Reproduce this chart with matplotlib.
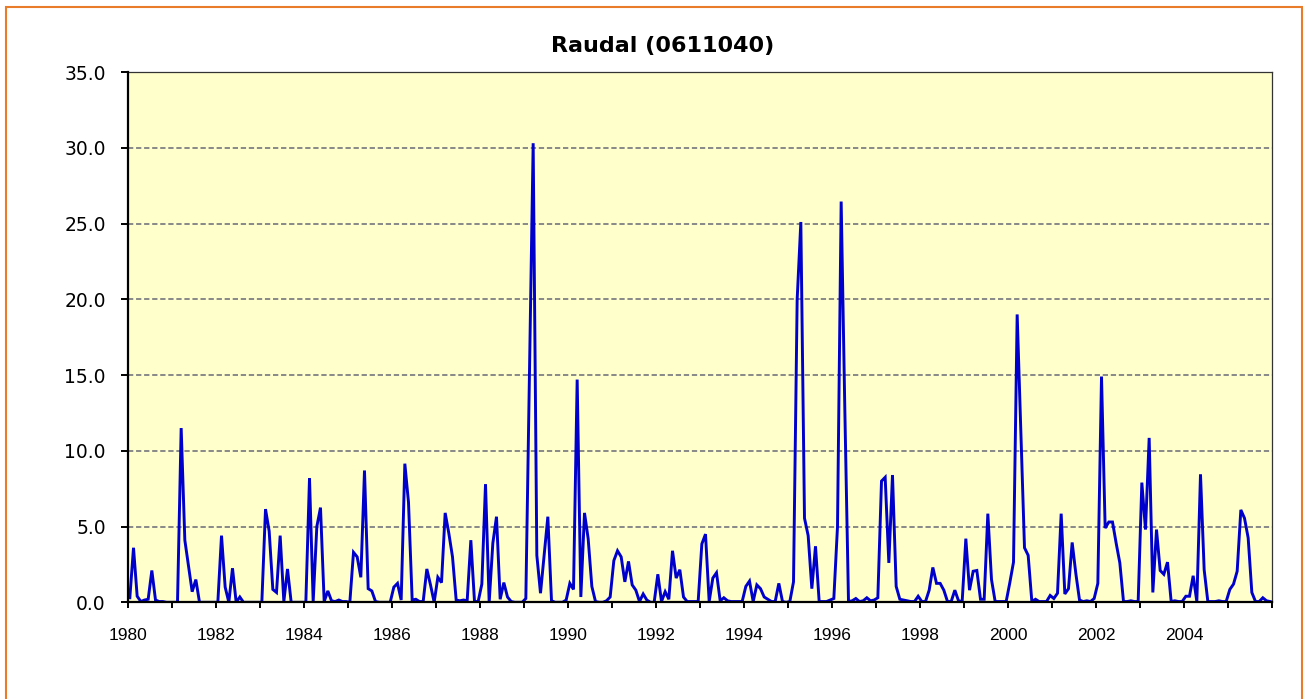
import matplotlib
matplotlib.use("Agg")
import matplotlib.pyplot as plt
from matplotlib.patches import Rectangle

title = "Raudal (0611040)"
start_year = 1980
end_year = 2006
label_years = list(range(1980, 2006, 2))
y_ticks = [0, 5, 10, 15, 20, 25, 30, 35]

# monthly values, Jan..Dec for each year 1980-2005
flow = [
    0.3, 3.6, 0.4, 0.05, 0.15, 0.2, 2.1, 0.15, 0.05, 0.05, 0, 0,          # 1980
    0, 0, 11.5, 4.1, 2.4, 0.7, 1.5, 0, 0, 0, 0, 0,                        # 1981
    0, 4.4, 1.0, 0, 2.25, 0, 0.35, 0, 0, 0, 0, 0,                         # 1982
    0, 6.15, 4.7, 0.85, 0.65, 4.4, 0.05, 2.2, 0, 0, 0, 0,                 # 1983
    0, 8.2, 0.05, 5.0, 6.25, 0.05, 0.75, 0.1, 0.05, 0.15, 0.05, 0.05,     # 1984
    0, 3.3, 3.0, 1.65, 8.7, 0.9, 0.75, 0.05, 0, 0, 0, 0,                  # 1985
    1.0, 1.25, 0.15, 9.15, 6.6, 0.15, 0.2, 0.05, 0.05, 2.2, 1.15, 0,      # 1986
    1.65, 1.3, 5.9, 4.55, 3.0, 0.15, 0.1, 0.15, 0.1, 4.1, 0.05, 0.05,     # 1987
    1.2, 7.8, 0, 3.9, 5.65, 0.2, 1.3, 0.35, 0.05, 0, 0, 0,                # 1988
    0.25, 15.2, 30.3, 3.1, 0.6, 3.1, 5.65, 0.1, 0, 0, 0, 0.15,            # 1989
    1.25, 0.85, 14.7, 0.35, 5.9, 4.2, 1.05, 0.05, 0, 0, 0.1, 0.35,        # 1990
    2.75, 3.4, 3.0, 1.35, 2.7, 1.15, 0.8, 0.05, 0.55, 0.15, 0, 0,         # 1991
    1.85, 0.05, 0.7, 0.2, 3.4, 1.6, 2.15, 0.35, 0.05, 0.05, 0.05, 0.05,   # 1992
    3.85, 4.5, 0.05, 1.6, 1.95, 0.1, 0.3, 0.1, 0.05, 0.05, 0.05, 0.05,    # 1993
    1.05, 1.4, 0.05, 1.15, 0.9, 0.35, 0.2, 0.05, 0.05, 1.25, 0.05, 0,     # 1994
    0.05, 1.35, 20.0, 25.1, 5.55, 4.4, 0.9, 3.7, 0.05, 0.05, 0.05, 0.15,  # 1995
    0.25, 5.0, 26.45, 12.7, 0.05, 0.1, 0.25, 0.05, 0.1, 0.3, 0.1, 0.15,   # 1996
    0.3, 8.0, 8.25, 2.6, 8.4, 1.05, 0.2, 0.15, 0.1, 0.05, 0.05, 0.4,      # 1997
    0.05, 0.05, 0.8, 2.3, 1.25, 1.25, 0.8, 0.05, 0.05, 0.8, 0.1, 0.05,    # 1998
    4.2, 0.8, 2.05, 2.1, 0.2, 0.2, 5.85, 1.5, 0.05, 0.05, 0.05, 0.05,     # 1999
    1.3, 2.65, 19.0, 11.3, 3.6, 3.1, 0.05, 0.2, 0.05, 0.05, 0.05, 0.45,   # 2000
    0.25, 0.6, 5.85, 0.55, 0.9, 3.95, 1.9, 0.15, 0.05, 0.1, 0.05, 0.25,   # 2001
    1.25, 14.9, 4.9, 5.3, 5.3, 3.9, 2.6, 0.05, 0.05, 0.1, 0.05, 0.05,     # 2002
    7.9, 4.8, 10.85, 0.65, 4.8, 2.1, 1.85, 2.65, 0.05, 0.1, 0.05, 0.05,   # 2003
    0.4, 0.4, 1.75, 0.05, 8.45, 2.15, 0.05, 0.05, 0.05, 0.1, 0.05, 0.05,  # 2004
    0.85, 1.2, 2.05, 6.1, 5.55, 4.25, 0.65, 0.05, 0.05, 0.3, 0.1, 0.05,   # 2005
]

x = [start_year + (i + 0.5) / 12.0 for i in range(len(flow))]

plt.rcParams['lines.scale_dashes'] = False
W, H, DPI = 1307, 699, 100
fig = plt.figure(figsize=(W / DPI, H / DPI), dpi=DPI)
fig.patch.set_facecolor('white')

# orange chart-area border
fig.add_artist(Rectangle((6 / W, -0.02), (1302 - 6) / W, (H - 7) / H + 0.02,
                         transform=fig.transFigure, fill=False,
                         edgecolor='#E97C2B', linewidth=1.5, zorder=0))

left, right, top, bottom = 128, 1272, 72, 602.3
ax = fig.add_axes([left / W, (H - bottom) / H, (right - left) / W, (bottom - top) / H])
ax.set_facecolor('#FFFFCC')

for yv in y_ticks[1:-1]:
    ax.axhline(yv, color='#888888', linewidth=1.4, linestyle=(0, (3.8, 2.0)), zorder=1)

ax.plot(x, flow, color='#0000CC', linewidth=2.1, zorder=3, solid_joinstyle='miter')

ax.set_xlim(start_year, end_year)
ax.set_ylim(0, 35)

ax.set_yticks(y_ticks)
ax.set_yticklabels([f"{v:.1f}" for v in y_ticks], fontsize=13.5, family='DejaVu Sans')
ax.set_xticks(list(range(start_year, end_year + 1)))
ax.set_xticklabels([str(yv) if yv in label_years else "" for yv in range(start_year, end_year + 1)],
                   fontsize=12.5, family='Liberation Sans')

ax.tick_params(axis='y', direction='out', length=5, width=1.4, pad=11, colors='black')
ax.tick_params(axis='x', direction='out', length=4.5, width=1.4, pad=14, colors='black')

for s in ['left', 'bottom']:
    ax.spines[s].set_linewidth(1.6)
    ax.spines[s].set_color('black')
    ax.spines[s].set_zorder(4)
for s in ['top', 'right']:
    ax.spines[s].set_linewidth(0.9)
    ax.spines[s].set_color('#333333')

fig.text(663 / W, (H - 46) / H, title, ha='center', va='center',
         fontsize=16, fontweight='bold', family='DejaVu Sans')

fig.savefig('out.png', dpi=DPI, facecolor='white')
